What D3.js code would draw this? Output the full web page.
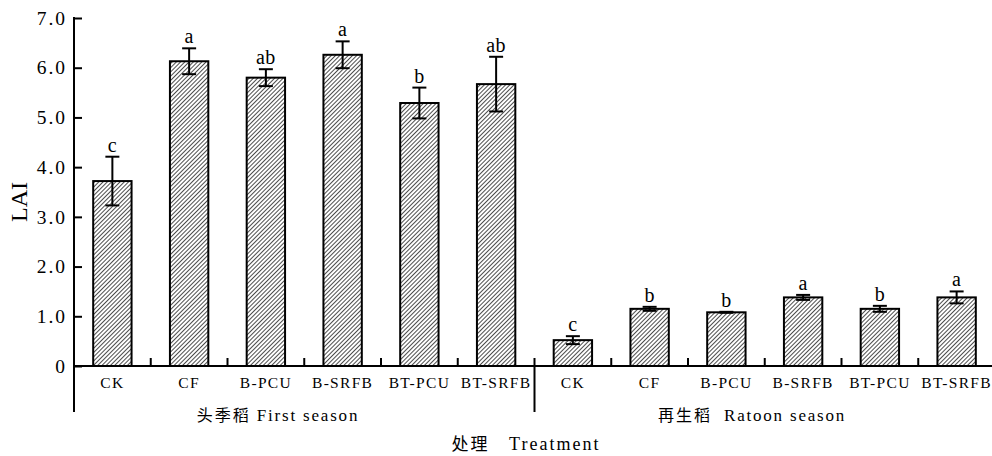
<!DOCTYPE html>
<html><head><meta charset="utf-8">
<script src="https://cdn.jsdelivr.net/npm/d3@7"></script>
<style>
html,body{margin:0;padding:0;background:#fff;}
svg{display:block;}
</style></head>
<body>
<svg id="chart" width="992" height="456"></svg>
<script>
// ---- data ----
const treatments = ["CK","CF","B-PCU","B-SRFB","BT-PCU","BT-SRFB"];
const seasonCN = ["头季稻","再生稻"];
const seasonEN = ["First season","Ratoon season"];
const firstValues  = [3.72, 6.13, 5.80, 6.26, 5.29, 5.67];
const firstErrors  = [0.49, 0.26, 0.17, 0.27, 0.31, 0.55];
const firstLetters = ["c","a","ab","a","b","ab"];
const ratoonValues  = [0.52, 1.15, 1.08, 1.38, 1.15, 1.38];
const ratoonErrors  = [0.08, 0.04, 0.01, 0.05, 0.06, 0.12];
const ratoonLetters = ["c","b","b","a","b","a"];
const yTicks = [0,1,2,3,4,5,6,7];
const yLabel = "LAI";
const xTitleCN = "处理", xTitleEN = "Treatment";

(function(){
const rows = [];
[[firstValues, firstErrors, firstLetters],[ratoonValues, ratoonErrors, ratoonLetters]].forEach((s, si) => {
  treatments.forEach((t, i) => rows.push({key: si + "_" + t, label: t, season: si, v: s[0][i], e: s[1][i], l: s[2][i]}));
});

const svg = d3.select("#chart");
const mLeft = 74, mRight = 995, mTop = 18, base = 366, low = 412;
const serif = '"Liberation Serif","Times New Roman",serif';
const cjk = '"Noto Sans CJK SC",sans-serif';

const x = d3.scaleBand().domain(rows.map(d => d.key)).range([mLeft, mRight]).paddingInner(0.5).paddingOuter(0.25);
const y = d3.scaleLinear().domain([0, 7]).range([base, mTop]);

// hatch pattern
const defs = svg.append("defs");
defs.append("pattern").attr("id","hatch").attr("patternUnits","userSpaceOnUse")
  .attr("width",3).attr("height",3).attr("patternTransform","rotate(45)")
  .append("line").attr("x1",0).attr("y1",0).attr("x2",0).attr("y2",3)
  .attr("stroke","#111").attr("stroke-width",1.5);

// bars
svg.append("g").selectAll("rect").data(rows).join("rect")
  .attr("x", d => x(d.key)).attr("y", d => y(d.v))
  .attr("width", x.bandwidth()).attr("height", d => y(0) - y(d.v))
  .attr("fill","url(#hatch)").attr("stroke","#000").attr("stroke-width",2);

// error bars
const eg = svg.append("g").attr("stroke","#000").attr("stroke-width",2);
rows.forEach(d => {
  const cx = x(d.key) + x.bandwidth()/2;
  eg.append("line").attr("x1",cx).attr("x2",cx).attr("y1",y(d.v + d.e)).attr("y2",y(d.v - d.e));
  [d.v + d.e, d.v - d.e].forEach(v => eg.append("line").attr("x1",cx-7).attr("x2",cx+7).attr("y1",y(v)).attr("y2",y(v)));
});

// significance letters
svg.append("g").selectAll("text").data(rows).join("text")
  .attr("x", d => x(d.key) + x.bandwidth()/2).attr("y", d => y(d.v + d.e) - 5)
  .attr("text-anchor","middle").attr("font-family",serif).attr("font-size",20).attr("letter-spacing",0.5)
  .text(d => d.l);

// y axis
const yAxis = svg.append("g").attr("transform",`translate(${mLeft},0)`)
  .call(d3.axisLeft(y).tickValues(yTicks).tickSize(-8).tickPadding(7)
    .tickFormat(d => d === 0 ? "0" : d3.format(".1f")(d)));
yAxis.select(".domain").remove();
yAxis.selectAll(".tick line").attr("stroke","#000").attr("stroke-width",2);
yAxis.selectAll("text").attr("font-family",serif).attr("font-size",19.5).attr("letter-spacing",2).attr("fill","#000");
svg.append("line").attr("x1",mLeft).attr("x2",mLeft).attr("y1",mTop-1).attr("y2",low).attr("stroke","#000").attr("stroke-width",2);

// x axis baseline
svg.append("line").attr("x1",mLeft).attr("x2",992).attr("y1",base).attr("y2",base).attr("stroke","#000").attr("stroke-width",2);
// boundary ticks
const step = x.step();
const boundaries = rows.slice(1).map(d => x(d.key) - x.paddingInner()*step/2);
boundaries.forEach((bx, i) => {
  const sep = (i === 5);
  svg.append("line").attr("x1",bx).attr("x2",bx).attr("y1",base-8).attr("y2", sep ? low : base)
    .attr("stroke","#000").attr("stroke-width",2);
});
// category labels
const xAxis = svg.append("g").attr("transform",`translate(0,${base})`)
  .call(d3.axisBottom(x).tickSize(0).tickPadding(11).tickFormat(k => rows.find(r => r.key === k).label));
xAxis.select(".domain").remove();
xAxis.selectAll("text").attr("font-family",serif).attr("font-size",15.5).attr("letter-spacing",1.3).attr("fill","#000");

// season labels
const seasonCenters = [278, 752];
seasonCN.forEach((cn, i) => {
  const t = svg.append("text").attr("x", seasonCenters[i]).attr("y", 421).attr("text-anchor","middle");
  t.append("tspan").attr("font-family",cjk).attr("font-size",16).attr("letter-spacing",2).text(cn);
  t.append("tspan").attr("font-family",serif).attr("font-size",17).attr("letter-spacing",1.8).text((i ? "\u00a0\u00a0" : "\u00a0") + seasonEN[i]);
});

// x title
const xt = svg.append("text").attr("x", 526).attr("y", 450).attr("text-anchor","middle");
xt.append("tspan").attr("font-family",cjk).attr("font-size",17).attr("letter-spacing",2).text(xTitleCN);
xt.append("tspan").attr("font-family",serif).attr("font-size",18).attr("letter-spacing",2).text("\u00a0\u00a0\u00a0" + xTitleEN);

// y title
svg.append("text").attr("transform","translate(27,202) rotate(-90)").attr("text-anchor","middle")
  .attr("font-family",serif).attr("font-size",24).text(yLabel);
})();
</script>
</body></html>
